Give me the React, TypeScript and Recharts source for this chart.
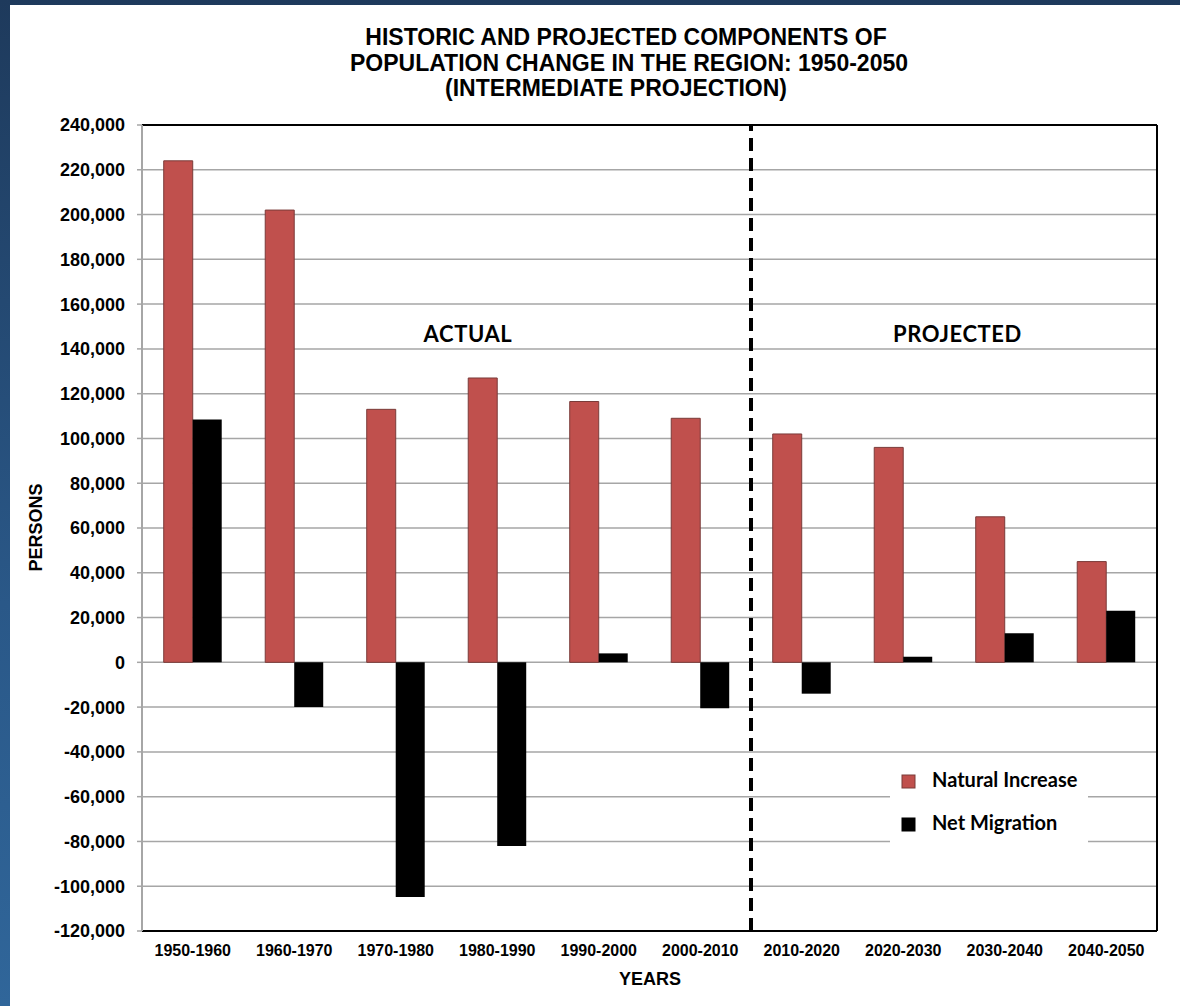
import { BarChart, Bar, XAxis, YAxis, CartesianGrid, ReferenceLine, Legend } from "recharts";

const periods = [
  "1950-1960",
  "1960-1970",
  "1970-1980",
  "1980-1990",
  "1990-2000",
  "2000-2010",
  "2010-2020",
  "2020-2030",
  "2030-2040",
  "2040-2050",
];
const naturalIncrease = [224000, 202000, 113000, 127000, 116500, 109000, 102000, 96000, 65000, 45000];
const netMigration = [108500, -20000, -104800, -82000, 4000, -20500, -14000, 2500, 13000, 23000];
const personTicks = [
  -120000, -100000, -80000, -60000, -40000, -20000, 0, 20000, 40000, 60000, 80000, 100000, 120000,
  140000, 160000, 180000, 200000, 220000, 240000,
];
const titleLines = [
  "HISTORIC AND PROJECTED COMPONENTS OF",
  "POPULATION CHANGE IN THE REGION: 1950-2050",
  "(INTERMEDIATE PROJECTION)",
];
const lastActualPeriod = "2000-2010";

const data = periods.map((period, i) => ({
  period,
  natural: naturalIncrease[i],
  migration: netMigration[i],
}));

const ARIAL = "'Liberation Sans', Arial, sans-serif";
const CALIBRI = "Lato, 'Open Sans', sans-serif";

function LegendBox({ payload }: any) {
  return (
    <svg width={198} height={92}>
      <rect x={0} y={0} width={198} height={92} fill="#fff" />
      {(payload || []).map((entry: any, i: number) => (
        <g key={entry.value}>
          <rect
            x={12}
            y={20 + i * 43}
            width={13}
            height={13}
            fill={entry.color}
            stroke={i === 0 ? "#7a3b39" : "#000"}
            strokeWidth={1}
          />
          <text x={42} y={32 + i * 43} fontFamily={CALIBRI} fontWeight={700} fontSize={20} fill="#000">
            {entry.value}
          </text>
        </g>
      ))}
    </svg>
  );
}

export default function App() {
  const titleCenters = [626, 629, 616];
  const yMax = personTicks[personTicks.length - 1];
  const lastPeriod = periods[periods.length - 1];

  return (
    <div
      style={{
        position: "absolute",
        left: 0,
        top: 0,
        width: 1180,
        height: 1006,
        background: "linear-gradient(to bottom, #1e3a5c 0%, #2a5888 60%, #30669a 100%)",
        overflow: "hidden",
      }}
    >
      <div style={{ position: "absolute", left: 10, top: 5, width: 1170, height: 1001, background: "#fff" }} />

      <div style={{ position: "absolute", left: 0, top: 0 }}>
        <BarChart
          width={1180}
          height={1006}
          data={data}
          margin={{ top: 125, right: 23, bottom: 0, left: 0 }}
          barCategoryGap="21.4%"
          barGap={0}
        >
          <CartesianGrid horizontal vertical={false} stroke="#a6a6a6" strokeWidth={1.5} />
          <XAxis
            dataKey="period"
            height={75}
            tickLine={false}
            tickSize={0}
            tickMargin={14}
            axisLine={{ stroke: "#000", strokeWidth: 2 }}
            tick={{ fill: "#000", fontFamily: ARIAL, fontWeight: 700, fontSize: 16 }}
            interval={0}
          />
          <YAxis
            width={142}
            domain={[-120000, 240000]}
            ticks={personTicks}
            interval={0}
            tickSize={5}
            tickMargin={12}
            tickLine={{ stroke: "#a6a6a6", strokeWidth: 1.5 }}
            axisLine={{ stroke: "#a6a6a6", strokeWidth: 2 }}
            tickFormatter={(v: number) => v.toLocaleString("en-US")}
            tick={{ fill: "#000", fontFamily: ARIAL, fontWeight: 700, fontSize: 18 }}
          />
          <Bar
            dataKey="natural"
            name="Natural Increase"
            fill="#c0504d"
            stroke="#7a3b39"
            strokeWidth={1}
            isAnimationActive={false}
          />
          <Bar dataKey="migration" name="Net Migration" fill="#000" isAnimationActive={false} />
          {/* plot frame: top and right edges */}
          <ReferenceLine y={yMax} stroke="#000" strokeWidth={2} />
          <ReferenceLine x={lastPeriod} position="end" stroke="#000" strokeWidth={2} />
          <ReferenceLine
            x={lastActualPeriod}
            position="end"
            stroke="#000"
            strokeWidth={4}
            strokeDasharray="13 7"
          />
          <Legend
            layout="vertical"
            align="center"
            verticalAlign="middle"
            content={<LegendBox />}
            wrapperStyle={{ left: 890, top: 755, width: 198, height: 92 }}
          />
        </BarChart>
      </div>

      <svg
        width={1180}
        height={1006}
        style={{ position: "absolute", left: 0, top: 0, pointerEvents: "none" }}
      >
        {titleLines.map((line, i) => (
          <text
            key={line}
            x={titleCenters[i]}
            y={45 + i * 25.5}
            textAnchor="middle"
            fontFamily={ARIAL}
            fontWeight={700}
            fontSize={23}
            fill="#000"
          >
            {line}
          </text>
        ))}
        <text x={468} y={342} textAnchor="middle" fontFamily={CALIBRI} fontWeight={700} fontSize={22} letterSpacing={0.6}>
          ACTUAL
        </text>
        <text x={957.5} y={342} textAnchor="middle" fontFamily={CALIBRI} fontWeight={700} fontSize={22} letterSpacing={0.6}>
          PROJECTED
        </text>
        <text x={650} y={985} textAnchor="middle" fontFamily={ARIAL} fontWeight={700} fontSize={18}>
          YEARS
        </text>
        <text
          transform="translate(42, 527.5) rotate(-90)"
          textAnchor="middle"
          fontFamily={ARIAL}
          fontWeight={700}
          fontSize={18}
        >
          PERSONS
        </text>
      </svg>
    </div>
  );
}
